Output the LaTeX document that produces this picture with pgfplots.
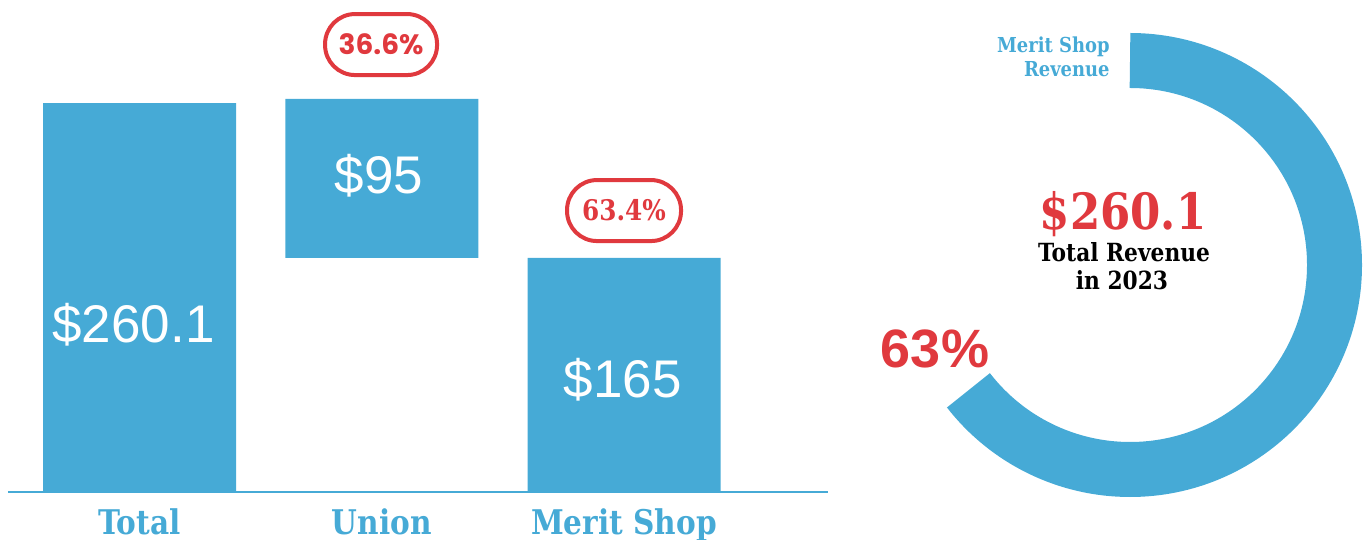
\documentclass[border=0pt]{standalone}
\usepackage{pgfplots}
\pgfplotsset{compat=1.18}
\usepackage{fontspec}
\setmainfont{Liberation Sans}
\newfontfamily\slab[FakeStretch=0.87]{DejaVu Serif}
\newfontfamily\pop{Poppins}
\definecolor{mblue}{HTML}{46AAD6}
\definecolor{mred}{HTML}{E0393E}
% share of the ring as drawn in the picture (label says 63%)
\def\arcshare{64.5}
\begin{document}
\begin{tikzpicture}[x=1pt,y=1pt]
\useasboundingbox (0,0) rectangle (684.5,270);
\begin{axis}[
  at={(4pt,24pt)}, anchor=south west,
  scale only axis, width=410pt, height=246pt,
  xmin=-0.543, xmax=2.842, ymin=0, ymax=329,
  ybar stacked, bar width=96.5pt,
  axis x line=bottom, axis y line=none,
  x axis line style={-, draw=mblue, line width=1pt},
  xtick={0,1,2}, xticklabels={Total,Union,Merit Shop},
  major tick length=0pt,
  xticklabel style={anchor=base, yshift=-21pt, inner sep=0pt, text=mblue,
    font=\slab\bfseries\fontsize{17}{17}\selectfont},
  clip=false,
]
\addplot[draw=none, fill=none] coordinates {(0,0) (1,156.5) (2,0)};
\addplot[draw=none, fill=mblue] coordinates {(0,260.1) (1,106.3) (2,156.5)};
\coordinate (lT) at (axis cs:-0.025,100.3);
\coordinate (lU) at (axis cs:0.989,199.9);
\coordinate (lM) at (axis cs:1.994,63.5);
\node[draw=mred, line width=2pt, rounded corners=15pt, minimum width=56pt, minimum height=30.5pt, inner sep=0pt, text=mred, font=\pop\bfseries\fontsize{14}{14}\selectfont] at (axis cs:0.997,299.2) {36.6\%};
\node[draw=mred, line width=2pt, rounded corners=15pt, minimum width=57pt, minimum height=30.5pt, inner sep=0pt, text=mred, font=\slab\bfseries\fontsize{14.2}{14}\selectfont] at (axis cs:2.0,188.2) {63.4\%};
\end{axis}
\node[anchor=base, text=white, font=\fontsize{26.5}{27}\selectfont] at (lT) {\$260.1};
\node[anchor=base, text=white, font=\fontsize{26.5}{27}\selectfont] at (lU) {\$95};
\node[anchor=base, text=white, font=\fontsize{26.5}{27}\selectfont] at (lM) {\$165};
\begin{axis}[
  at={(565pt,137.5pt)}, anchor=center,
  hide axis, scale only axis, x=0.5pt, y=0.5pt,
  xmin=-300, xmax=300, ymin=-270, ymax=270, clip=false,
]
\addplot[draw=none] coordinates {(0,0)};
\draw[mblue, line width=27.5pt] (axis cs:0,204.5) arc[start angle=90, delta angle=-\arcshare*3.6, radius=102.25pt];
\node[anchor=base east, inner sep=0pt, text=mblue, font=\slab\bfseries\fontsize{10.3}{12}\selectfont] at (axis cs:-20,212) {Merit Shop};
\node[anchor=base east, inner sep=0pt, text=mblue, font=\slab\bfseries\fontsize{10.3}{12}\selectfont] at (axis cs:-20,188) {Revenue};
\node[anchor=base, inner sep=0pt, text=mred, font=\slab\bfseries\fontsize{25}{25}\selectfont] at (axis cs:-7,35.5) {\$260.1};
\node[anchor=base, inner sep=0pt, text=black, font=\slab\bfseries\fontsize{12.5}{13}\selectfont] at (axis cs:-6,3) {Total Revenue};
\node[anchor=base, inner sep=0pt, text=black, font=\slab\bfseries\fontsize{12.5}{13}\selectfont] at (axis cs:-8,-25) {in 2023};
\node[anchor=base, inner sep=0pt, text=mred, font=\bfseries\fontsize{27}{27}\selectfont] at (axis cs:-195,-103) {63\%};
\end{axis}
\end{tikzpicture}
\end{document}
